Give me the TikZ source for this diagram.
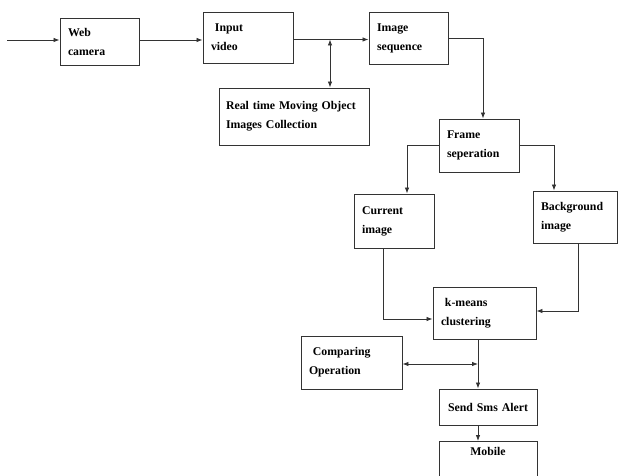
\documentclass[tikz,border=0pt]{standalone}
\usepackage{fontspec}
\setmainfont{Liberation Serif}
\usetikzlibrary{arrows.meta}
\hyphenpenalty=10000
\begin{document}
\begin{tikzpicture}[x=1pt, y=-1pt,
    box/.style={draw=black!80, line width=0.9pt, inner xsep=8pt, align=left,
      font=\fontsize{11.8}{19}\selectfont\bfseries},
    flow/.style={draw=black!80, line width=0.8pt, -{Latex[length=6pt,width=4.5pt]}},
    both/.style={draw=black!80, line width=0.8pt, {Latex[length=6pt,width=4.5pt]}-{Latex[length=6pt,width=4.5pt]}}]
  \useasboundingbox (0,0) rectangle (618,476);
  \clip (0,0) rectangle (618,476);

        % Boxes
  \node[box, minimum width=79, minimum height=47, text width=63] (web) at (99.5,41.5) {Web\\camera};
  \node[box, minimum width=90, minimum height=51, text width=74] (input) at (248,37.5) {\,\,Input\\video};
  \node[box, minimum width=150, minimum height=57, text width=136, inner xsep=7pt] (rtm) at (294,116.5) {Real time Moving Object\\Images Collection};
  \node[box, minimum width=79, minimum height=52, text width=63] (seq) at (408.5,38) {Image\\sequence};
  \node[box, minimum width=80, minimum height=53, text width=64] (frame) at (479,145.5) {Frame\\seperation};
  \node[box, minimum width=80, minimum height=54, text width=64] (current) at (394,221) {Current\\image};
  \node[box, minimum width=84, minimum height=52, text width=68] (backgr) at (575,217) {Background\\image};
  \node[box, minimum width=103, minimum height=52, text width=87] (kmeans) at (484.5,313) {\,\,k-means\\clustering};
  \node[box, minimum width=101, minimum height=53, text width=85] (compare) at (351.5,362.5) {\,\,Comparing\\Operation};
  \node[box, minimum width=98, minimum height=36, text width=90, inner xsep=4pt, align=center] (sms) at (488,407) {Send Sms Alert};
  \node[box, minimum width=98, text width=82, align=center, inner ysep=6pt,
    text height=8pt, text depth=30pt, anchor=north] (mobile) at (488,441) {Mobile};

        % Top row
  \coordinate (start) at (7,40);
  \draw[flow] (start) -- (start -| web.west);
  \draw[flow] (web.east |- start) -- (start -| input.west);
  \coordinate (tap) at (330,39.5);
  \draw[flow] (input.east |- tap) -- (tap -| seq.west);
  \draw[both] (tap) -- (tap |- rtm.north);

        % Splitting the frames
  \draw[flow] (seq.east) -| ([xshift=4]frame.north);
  \draw[flow] (frame.west) -| ([xshift=13]current.north);
  \draw[flow] (frame.east) -| ([xshift=-21]backgr.north);

        % Into the clustering
  \draw[flow] ([xshift=-11]current.south) |- ([yshift=-6]kmeans.west);
  \draw[flow] ([xshift=3]backgr.south) |- ([yshift=2]kmeans.east);

        % Output
  \coordinate (join) at (478,364);
  \draw[flow] (join |- kmeans.south) -- (join |- sms.north);
  \draw[both] (compare.east |- join) -- (join);
  \draw[flow] (join |- sms.south) -- (join |- mobile.north);
\end{tikzpicture}
\end{document}
